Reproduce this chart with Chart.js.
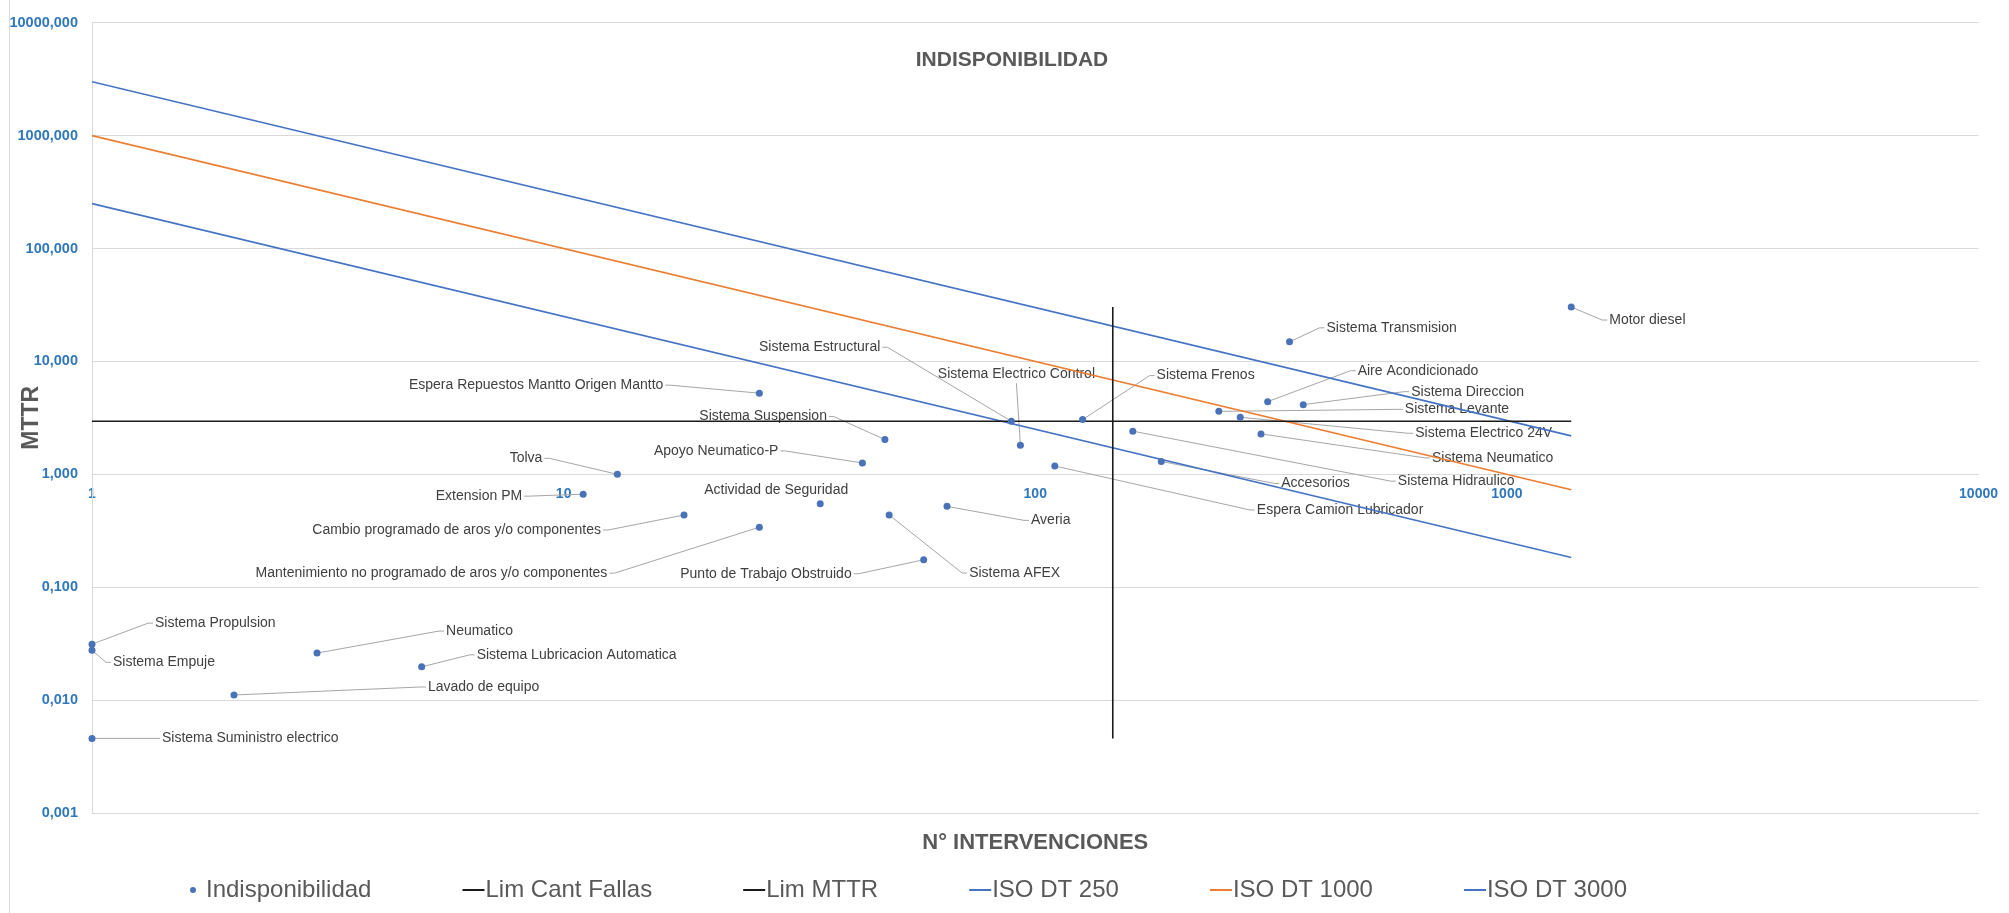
<!DOCTYPE html>
<html>
<head>
<meta charset="utf-8">
<script src="https://cdn.jsdelivr.net/npm/chart.js@4.4.1/dist/chart.umd.min.js"></script>
<style>
html,body{margin:0;padding:0;background:#fff;}
#wrap{position:relative;width:2009px;height:913px;}
canvas{display:block;}
</style>
</head>
<body>
<div id="wrap"><canvas id="c"></canvas></div>
<script>
// ---------- DATA ----------
const categories = [
  'Motor diesel', 'Sistema Transmision', 'Aire Acondicionado', 'Sistema Direccion',
  'Sistema Levante', 'Sistema Electrico 24V', 'Sistema Neumatico', 'Sistema Hidraulico',
  'Accesorios', 'Espera Camion Lubricador', 'Sistema Frenos', 'Sistema Electrico Control',
  'Sistema Estructural', 'Espera Repuestos Mantto Origen Mantto', 'Sistema Suspension',
  'Apoyo Neumatico-P', 'Tolva', 'Extension PM', 'Actividad de Seguridad',
  'Cambio programado de aros y/o componentes',
  'Mantenimiento no programado de aros y/o componentes',
  'Averia', 'Sistema AFEX', 'Punto de Trabajo Obstruido', 'Sistema Propulsion',
  'Sistema Empuje', 'Neumatico', 'Sistema Lubricacion Automatica', 'Lavado de equipo',
  'Sistema Suministro electrico'
];
const interventions = [1369, 346, 311, 370, 245, 272, 301, 161, 185, 110, 126, 93,
  89, 26, 48, 43, 13, 11, 35, 18, 26, 65, 49, 58, 1, 1, 3, 5, 2, 1];
const mttr = [30.3, 14.9, 4.40, 4.14, 3.61, 3.20, 2.28, 2.41, 1.30, 1.185, 3.05, 1.81,
  2.95, 5.23, 2.03, 1.26, 1.0, 0.667, 0.549, 0.436, 0.34, 0.52, 0.436, 0.175, 0.0313,
  0.0276, 0.0261, 0.0197, 0.0111, 0.00458];

const isoN = [1, 1369];
const iso250 = [250, 0.183];
const iso1000 = [1000, 0.73];
const iso3000 = [3000, 2.19];
const limCantFallasN = [146, 146];
const limCantFallasMTTR = [0.00458, 30.3];
const limMttrN = [1, 1369];
const limMttrValue = [2.95, 2.95];

const xTickValues = [1, 10, 100, 1000, 10000];
const xTickLabels = ['1', '10', '100', '1000', '10000'];
const yTickValues = [0.001, 0.01, 0.1, 1, 10, 100, 1000, 10000];
const yTickLabels = ['0,001', '0,010', '0,100', '1,000', '10,000', '100,000', '1000,000', '10000,000'];

const seriesNames = ['Indisponibilidad', 'Lim Cant Fallas', 'Lim MTTR', 'ISO DT 250', 'ISO DT 1000', 'ISO DT 3000'];

// ---------- LABEL LAYOUT (side, dx, dy in px relative to the point) ----------
const labelLayout = [
  ['R', 38, 13], ['R', 37, -14], ['R', 90, -31], ['R', 108, -13],
  ['R', 186, -2], ['R', 175, 16], ['R', 171, 24], ['R', 265, 50],
  ['R', 120, 22], ['R', 202, 44], ['R', 74, -44], ['T', -4, -71],
  ['L', -131, -74], ['L', -96, -8], ['L', -58, -23],
  ['L', -84, -12], ['L', -75, -16], ['L', -61, 2], ['C', -44, -14],
  ['L', -83, 15],
  ['L', -152, 46],
  ['R', 84, 14], ['R', 80, 58], ['L', -72, 14], ['R', 63, -21],
  ['R', 21, 12], ['R', 129, -22], ['R', 55, -12], ['R', 194, -8],
  ['R', 70, 0]
];

// ---------- STYLE ----------
const FONT = "'Liberation Sans', Arial, sans-serif";
const BLUE = '#4472c4';
const ORANGE = '#ed7d31';
const BLACK = '#1a1a1a';
const POINT = '#4a72b8';
const TICK = '#2f77bc';
const AXTITLE = '#595959';
Chart.defaults.font.family = FONT;

const toXY = (xs, ys) => xs.map((v, i) => ({x: v, y: ys[i]}));

// legend icons
const LEG_FS = 24, LEG_BOX = 92;
function legendIcon(kind, color) {
  const c = document.createElement('canvas');
  c.width = LEG_BOX + LEG_FS; c.height = 12;
  const g = c.getContext('2d');
  g.fillStyle = color;
  if (kind === 'dot') {
    g.beginPath(); g.arc(c.width - 13, 6, 3, 0, Math.PI * 2); g.fill();
  } else {
    g.fillRect(c.width - 23, 5, 22, 2);
  }
  return c;
}
const legendIcons = [
  legendIcon('dot', POINT), legendIcon('line', BLACK), legendIcon('line', BLACK),
  legendIcon('line', BLUE), legendIcon('line', ORANGE), legendIcon('line', BLUE)
];

const overlayPlugin = {
  id: 'overlay',
  beforeDraw(chart) {
    const ctx = chart.ctx;
    ctx.save();
    ctx.fillStyle = '#ffffff';
    ctx.fillRect(0, 0, chart.width, chart.height);
    ctx.strokeStyle = '#d9d9d9';
    ctx.lineWidth = 1;
    ctx.beginPath(); ctx.moveTo(9.5, 0); ctx.lineTo(9.5, chart.height); ctx.stroke();
    ctx.restore();
  },
  beforeDatasetsDraw(chart) {
    const ctx = chart.ctx;
    const xs = chart.scales.x, ys = chart.scales.y;
    ctx.save();
    ctx.font = '14px ' + FONT;
    ctx.textBaseline = 'middle';
    categories.forEach((name, i) => {
      const px = xs.getPixelForValue(interventions[i]);
      const py = ys.getPixelForValue(mttr[i]);
      const [side, dx, dy] = labelLayout[i];
      const tx = px + dx, ty = py + dy;
      ctx.strokeStyle = '#a6a6a6';
      ctx.lineWidth = 1;
      ctx.beginPath();
      if (side === 'R') { ctx.moveTo(px, py); ctx.lineTo(tx - 7, ty); ctx.lineTo(tx - 2, ty); }
      else if (side === 'L') { ctx.moveTo(px, py); ctx.lineTo(tx + 7, ty); ctx.lineTo(tx + 2, ty); }
      else if (side === 'T') { ctx.moveTo(px, py); ctx.lineTo(tx, ty + 9); }
      if (side !== 'C') ctx.stroke();
      ctx.fillStyle = '#404040';
      ctx.textAlign = side === 'R' ? 'left' : (side === 'L' ? 'right' : 'center');
      ctx.fillText(name, tx, ty);
    });
    ctx.restore();
  },
  afterDraw(chart) {
    const ctx = chart.ctx;
    ctx.save();
    ctx.font = 'bold 21px ' + FONT;
    ctx.fillStyle = AXTITLE;
    ctx.textAlign = 'center';
    ctx.textBaseline = 'middle';
    ctx.fillText('INDISPONIBILIDAD', 1012, 60);
    ctx.restore();
  }
};

new Chart(document.getElementById('c'), {
  type: 'scatter',
  data: {
    datasets: [
      {
        label: seriesNames[0], data: toXY(interventions, mttr), xAxisID: 'x', yAxisID: 'y',
        backgroundColor: POINT, borderColor: POINT, pointRadius: 3.5, pointBorderWidth: 0,
        showLine: false, clip: false
      },
      {
        label: seriesNames[1], data: toXY(limCantFallasN, limCantFallasMTTR), xAxisID: 'x', yAxisID: 'y',
        showLine: true, borderColor: BLACK, backgroundColor: BLACK, borderWidth: 1.6, pointRadius: 0
      },
      {
        label: seriesNames[2], data: toXY(limMttrN, limMttrValue), xAxisID: 'x', yAxisID: 'y',
        showLine: true, borderColor: BLACK, backgroundColor: BLACK, borderWidth: 1.6, pointRadius: 0
      },
      {
        label: seriesNames[3], data: toXY(isoN, iso250), xAxisID: 'x', yAxisID: 'y',
        showLine: true, borderColor: BLUE, backgroundColor: BLUE, borderWidth: 1.6, pointRadius: 0
      },
      {
        label: seriesNames[4], data: toXY(isoN, iso1000), xAxisID: 'x', yAxisID: 'y',
        showLine: true, borderColor: ORANGE, backgroundColor: ORANGE, borderWidth: 1.6, pointRadius: 0
      },
      {
        label: seriesNames[5], data: toXY(isoN, iso3000), xAxisID: 'x', yAxisID: 'y',
        showLine: true, borderColor: BLUE, backgroundColor: BLUE, borderWidth: 1.6, pointRadius: 0
      }
    ]
  },
  options: {
    responsive: true,
    maintainAspectRatio: false,
    animation: false,
    events: [],
    layout: { padding: { left: 0, right: 29, top: 17, bottom: 1 } },
    scales: {
      x: {
        type: 'logarithmic', position: 'bottom', min: 1, max: 10000,
        grid: { display: false, drawTicks: false },
        border: { display: false },
        ticks: { display: false },
        title: {
          display: true, text: 'N° INTERVENCIONES', color: AXTITLE,
          font: { size: 22, weight: 'bold', family: FONT },
          padding: { top: 16.8, bottom: 11.8 }
        }
      },
      x2: {
        type: 'logarithmic', axis: 'x', position: { y: 1 }, min: 1, max: 10000,
        grid: { display: false, drawTicks: false },
        border: { display: false },
        afterBuildTicks: (scale) => { scale.ticks = xTickValues.map(v => ({ value: v })); },
        ticks: {
          autoSkip: false, maxRotation: 0, padding: 11, color: TICK,
          font: { size: 14, weight: 'bold', family: FONT },
          callback: (v) => { const i = xTickValues.indexOf(v); return i >= 0 ? xTickLabels[i] : ''; }
        }
      },
      y: {
        type: 'logarithmic', position: 'left', min: 0.001, max: 10000,
        grid: { color: '#d9d9d9', lineWidth: 1, drawTicks: false },
        border: { display: true, color: '#d9d9d9', width: 1 },
        afterBuildTicks: (scale) => { scale.ticks = yTickValues.map(v => ({ value: v })); },
        afterFit: (scale) => { scale.width = 92; },
        ticks: {
          autoSkip: false, padding: 14, color: TICK,
          font: { size: 14.5, weight: 'bold', family: FONT },
          callback: (v) => {
            const i = yTickValues.findIndex(t => Math.abs(Math.log10(t) - Math.log10(v)) < 1e-6);
            return i >= 0 ? yTickLabels[i] : '';
          }
        },
        title: {
          display: true, text: 'MTTR', color: AXTITLE,
          font: { size: 23, weight: 'bold', family: FONT },
          padding: { top: 18.2, bottom: 0 }
        }
      }
    },
    plugins: {
      title: { display: false },
      tooltip: { enabled: false },
      legend: {
        display: true, position: 'bottom', align: 'start', fullSize: false,
        labels: {
          color: AXTITLE,
          font: { size: LEG_FS, family: FONT },
          usePointStyle: true,
          pointStyleWidth: LEG_BOX,
          boxHeight: LEG_FS,
          padding: 10,
          generateLabels: (chart) => {
            const items = Chart.defaults.plugins.legend.labels.generateLabels(chart);
            return items.map((it, i) => Object.assign(it, { pointStyle: legendIcons[i], fontColor: AXTITLE }));
          }
        }
      }
    }
  },
  plugins: [overlayPlugin]
});
</script>
</body>
</html>
